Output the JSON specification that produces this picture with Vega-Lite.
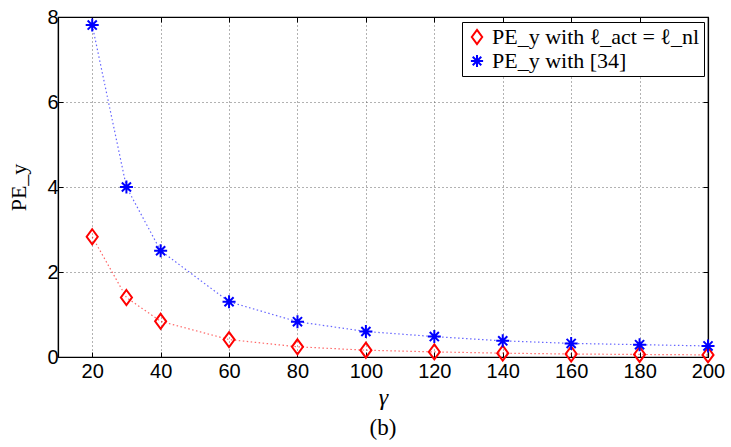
{
  "$schema": "https://vega.github.io/schema/vega-lite/v6.json",
  "autosize": "none",
  "padding": {"left": 58, "top": 17, "right": 23, "bottom": 90},
  "width": 650,
  "height": 340,
  "background": "white",
  "view": {"stroke": "black", "strokeWidth": 1.2},
  "config": {
    "font": "Liberation Serif",
    "legend": {"labelFont": "Liberation Serif", "labelFontSize": 22, "labelColor": "black", "labelLimit": 400,
      "strokeColor": "black", "fillColor": "white", "padding": 4, "rowPadding": 1,
      "symbolStrokeWidth": 2, "symbolSize": 150, "symbolOpacity": 1, "symbolFillColor": "transparent"}
  },
  "title": {"text": "(b)", "orient": "bottom", "anchor": "middle", "font": "Liberation Serif", "fontSize": 23, "fontWeight": "normal", "color": "black", "offset": 8},
  "data": {"values": [
    {"gamma": 20, "pe": 2.83, "series": "PE_y with ℓ_act = ℓ_nl"},
    {"gamma": 30, "pe": 1.40, "series": "PE_y with ℓ_act = ℓ_nl"},
    {"gamma": 40, "pe": 0.84, "series": "PE_y with ℓ_act = ℓ_nl"},
    {"gamma": 60, "pe": 0.41, "series": "PE_y with ℓ_act = ℓ_nl"},
    {"gamma": 80, "pe": 0.24, "series": "PE_y with ℓ_act = ℓ_nl"},
    {"gamma": 100, "pe": 0.16, "series": "PE_y with ℓ_act = ℓ_nl"},
    {"gamma": 120, "pe": 0.12, "series": "PE_y with ℓ_act = ℓ_nl"},
    {"gamma": 140, "pe": 0.09, "series": "PE_y with ℓ_act = ℓ_nl"},
    {"gamma": 160, "pe": 0.07, "series": "PE_y with ℓ_act = ℓ_nl"},
    {"gamma": 180, "pe": 0.06, "series": "PE_y with ℓ_act = ℓ_nl"},
    {"gamma": 200, "pe": 0.05, "series": "PE_y with ℓ_act = ℓ_nl"},
    {"gamma": 20, "pe": 7.81, "series": "PE_y with [34]"},
    {"gamma": 30, "pe": 4.0, "series": "PE_y with [34]"},
    {"gamma": 40, "pe": 2.5, "series": "PE_y with [34]"},
    {"gamma": 60, "pe": 1.3, "series": "PE_y with [34]"},
    {"gamma": 80, "pe": 0.83, "series": "PE_y with [34]"},
    {"gamma": 100, "pe": 0.6, "series": "PE_y with [34]"},
    {"gamma": 120, "pe": 0.48, "series": "PE_y with [34]"},
    {"gamma": 140, "pe": 0.38, "series": "PE_y with [34]"},
    {"gamma": 160, "pe": 0.32, "series": "PE_y with [34]"},
    {"gamma": 180, "pe": 0.29, "series": "PE_y with [34]"},
    {"gamma": 200, "pe": 0.26, "series": "PE_y with [34]"}
  ]},
  "resolve": {"axis": {"x": "independent", "y": "independent"}},
  "layer": [
    {
      "mark": {"type": "point", "opacity": 0},
      "encoding": {
        "x": {"field": "gamma", "type": "quantitative",
          "scale": {"domain": [10, 200], "nice": false, "zero": false},
          "axis": {"orient": "top", "values": [20, 40, 60, 80, 100, 120, 140, 160, 180, 200], "labels": false, "title": null, "grid": false, "tickSize": -5, "tickColor": "black", "domainColor": "black", "domainWidth": 1.2}},
        "y": {"field": "pe", "type": "quantitative",
          "scale": {"domain": [0, 8], "nice": false},
          "axis": {"orient": "right", "values": [0, 2, 4, 6, 8], "labels": false, "title": null, "grid": false, "tickSize": -5, "tickColor": "black", "domainColor": "black", "domainWidth": 1.2}}
      }
    },
    {
      "encoding": {
        "x": {"field": "gamma", "type": "quantitative",
          "scale": {"domain": [10, 200], "nice": false, "zero": false},
          "axis": {"values": [20, 40, 60, 80, 100, 120, 140, 160, 180, 200],
            "title": "γ", "titleFont": "Liberation Serif", "titleFontSize": 24, "titleFontWeight": "normal", "titleFontStyle": "italic", "titleColor": "black", "titlePadding": 4,
            "labelFont": "Liberation Sans", "labelFontSize": 20, "labelColor": "black", "labelPadding": 9, "labelFlush": false, "labelOverlap": false,
            "grid": true, "gridDash": [1, 3], "gridColor": "#555", "gridOpacity": 0.9,
            "tickSize": -5, "tickColor": "black", "domainColor": "black", "domainWidth": 1.2}},
        "y": {"field": "pe", "type": "quantitative",
          "scale": {"domain": [0, 8], "nice": false},
          "axis": {"values": [0, 2, 4, 6, 8],
            "title": "PE_y", "titleFont": "Liberation Serif", "titleFontSize": 22, "titleFontWeight": "normal", "titleColor": "black", "titlePadding": 16,
            "labelFont": "Liberation Sans", "labelFontSize": 20, "labelColor": "black", "labelPadding": 5, "labelFlush": false, "labelOverlap": false,
            "grid": true, "gridDash": [1, 3], "gridColor": "#555", "gridOpacity": 0.9,
            "tickSize": -5, "tickColor": "black", "domainColor": "black", "domainWidth": 1.2}}
      },
      "layer": [
        {
          "mark": {"type": "line", "strokeDash": [1.5, 2.5], "strokeWidth": 1.2, "opacity": 0.6},
          "encoding": {
            "color": {"field": "series", "type": "nominal",
              "scale": {"domain": ["PE_y with ℓ_act = ℓ_nl", "PE_y with [34]"], "range": ["#ff0000", "#0000ff"]},
              "legend": {"title": null, "orient": "none", "legendX": 404, "legendY": 5, "labelFont": "Liberation Serif"}}
          }
        },
        {
          "mark": {"type": "point", "filled": false, "strokeWidth": 2, "opacity": 1},
          "encoding": {
            "color": {"field": "series", "type": "nominal",
              "scale": {"domain": ["PE_y with ℓ_act = ℓ_nl", "PE_y with [34]"], "range": ["#ff0000", "#0000ff"]},
              "legend": {"title": null, "orient": "none", "legendX": 404, "legendY": 5, "labelFont": "Liberation Serif"}},
            "shape": {"field": "series", "type": "nominal",
              "scale": {"domain": ["PE_y with ℓ_act = ℓ_nl", "PE_y with [34]"],
                "range": ["M0,-1.15L0.85,0L0,1.15L-0.85,0Z", "M-1,0L1,0M0,-1L0,1M-0.7,-0.7L0.7,0.7M-0.7,0.7L0.7,-0.7"]},
              "legend": {"title": null, "orient": "none", "legendX": 404, "legendY": 5, "labelFont": "Liberation Serif"}},
            "size": {"value": 170}
          }
        }
      ]
    }
  ]
}
